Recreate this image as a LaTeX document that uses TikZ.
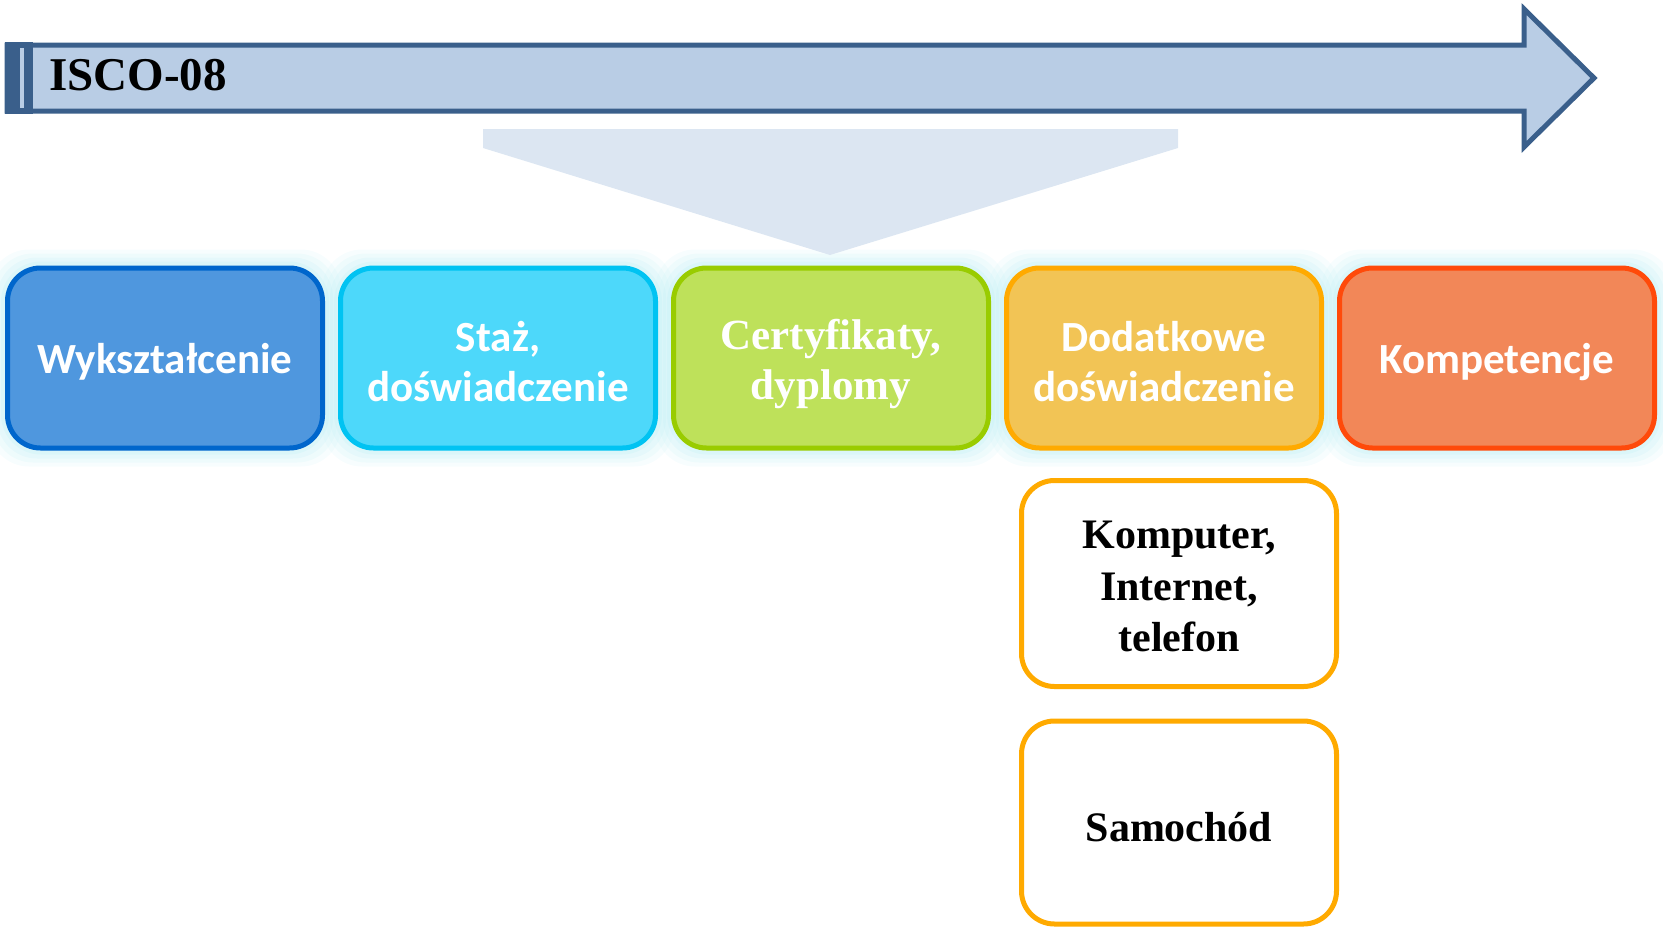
\documentclass[tikz,border=0pt]{standalone}
\usepackage{fontspec}
\newfontfamily\cardsans{Carlito}
\newfontfamily\cardserif{Liberation Serif}
\usetikzlibrary{calc,backgrounds}
\definecolor{arrowfill}{HTML}{B9CDE5}
\definecolor{arrowline}{HTML}{3A5F8B}
\definecolor{funnel}{HTML}{DCE6F2}
\definecolor{glowc}{HTML}{BDEEF4}
\definecolor{fA}{HTML}{4F97DE}\definecolor{lA}{HTML}{0066CC}
\definecolor{fB}{HTML}{4DD8FA}\definecolor{lB}{HTML}{00C3F2}
\definecolor{fC}{HTML}{BEE15A}\definecolor{lC}{HTML}{99CC00}
\definecolor{fD}{HTML}{F2C455}\definecolor{lD}{HTML}{FFAA00}
\definecolor{fE}{HTML}{F28758}\definecolor{lE}{HTML}{FF4A0A}
\tikzset{
  card/.style={rounded corners=33pt, line width=5pt, minimum width=315pt,
    minimum height=180pt, inner sep=0pt},
  cardtext/.style={align=center, text=white, inner sep=0pt},
  calfont/.style={font=\cardsans\bfseries\fontsize{43}{50}\selectfont},
  tnrfont/.style={font=\cardserif\bfseries\fontsize{43}{50}\selectfont},
  subcard/.style={rounded corners=33pt, line width=5pt, draw=lD, fill=white,
    minimum width=315pt, inner sep=0pt},
  subtext/.style={align=center, text=black, inner sep=0pt,
    font=\cardserif\bfseries\fontsize{42}{51.5}\selectfont}
}
\begin{document}
\begin{tikzpicture}[x=1pt,y=-1pt]
\useasboundingbox (0,0) rectangle (1663,927);
% timeline arrow
\draw[arrowline, fill=arrowfill, line width=5pt, line join=miter]
  (7,45) -- (1524,45) -- (1524,9) -- (1594,78) -- (1524,147) -- (1524,111) -- (7,111) -- cycle;
\fill[arrowline] (5,42) rectangle (33,114);
\draw[arrowfill, line width=3.5pt] (22,48) -- (22,108);
\node[anchor=west, font=\cardserif\bfseries\fontsize{47}{50}\selectfont, inner sep=0pt] (isco) at (49,75) {ISCO-08};
% funnel
\fill[funnel] (483,129) -- (1178,129) -- (1178,148) -- (830,255) -- (483,148) -- cycle;
% category cards
\node[card, draw=lA, fill=fA] (b1) at (165,358) {};
\node[card, draw=lB, fill=fB] (b2) at (498,358) {};
\node[card, draw=lC, fill=fC] (b3) at (831,358) {};
\node[card, draw=lD, fill=fD] (b4) at (1164,358) {};
\node[card, draw=lE, fill=fE] (b5) at (1497,358) {};
\node[cardtext, calfont] (t1) at ([yshift=-4pt]b1.center) {Wykształcenie};
\node[cardtext, calfont] (t2) at ([yshift=-4pt]b2.center) {Staż,\\doświadczenie};
\node[cardtext, tnrfont] (t3) at ([yshift=-6pt]b3.center) {Certyfikaty,\\dyplomy};
\node[cardtext, calfont] (t4) at ([yshift=-4pt]b4.center) {Dodatkowe\\doświadczenie};
\node[cardtext, calfont] (t5) at ([yshift=-4pt]b5.center) {Kompetencje};
% sub cards
\node[subcard, minimum height=206pt] (s1) at (1179,583.5) {};
\node[subcard, minimum height=203pt] (s2) at (1179,822.5) {};
\node[subtext] (u1) at ([yshift=-3pt]s1.center) {Komputer,\\Internet,\\telefon};
\node[subtext] (u2) at ([yshift=-5pt]s2.center) {Samochód};
% soft glow behind the cards
\begin{scope}[on background layer]
\foreach \n in {b1,b2,b3,b4,b5}{
  \foreach \g/\o in {16/0.12, 12/0.15, 8/0.2, 4/0.25}{
    \fill[glowc, opacity=\o, rounded corners=40pt]
      ($(\n.south west)+(-\g,\g)$) rectangle ($(\n.north east)+(\g,-\g)$);
  }
}
\end{scope}
\end{tikzpicture}
\end{document}
